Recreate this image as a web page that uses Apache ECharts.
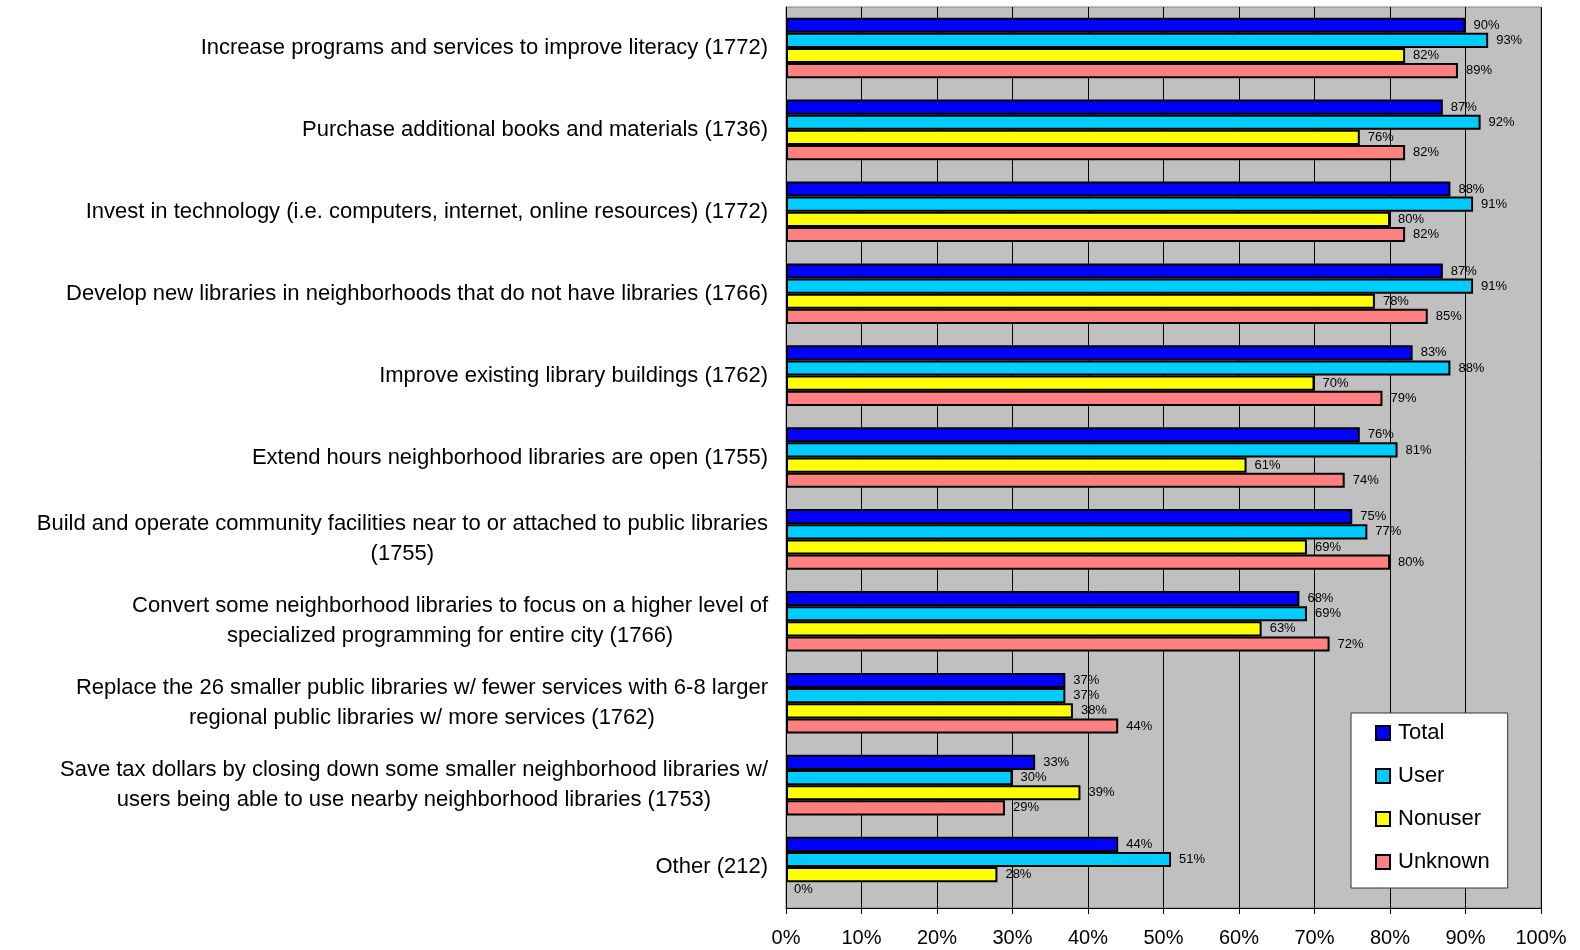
<!DOCTYPE html>
<html>
<head>
<meta charset="utf-8">
<title>Library priorities</title>
<script src="https://cdn.jsdelivr.net/npm/echarts@6/dist/echarts.min.js"></script>
<style>
	html, body { margin: 0; padding: 0; background: #fff; }
	#main { width: 1580px; height: 950px; }
</style>
</head>
<body>
<div id="main"></div>
<script>
// categories, top to bottom
var categories = [
	'Increase programs and services to improve literacy (1772)',
	'Purchase additional books and materials (1736)',
	'Invest in technology (i.e. computers, internet, online resources) (1772)',
	'Develop new libraries in neighborhoods that do not have libraries (1766)',
	'Improve existing library buildings (1762)',
	'Extend hours neighborhood libraries are open (1755)',
	'Build and operate community facilities near to or attached to public libraries\n(1755)',
	'Convert some neighborhood libraries to focus on a higher level of\nspecialized programming for entire city (1766)',
	'Replace the 26 smaller public libraries w/ fewer services with 6-8 larger\nregional public libraries w/ more services (1762)',
	'Save tax dollars by closing down some smaller neighborhood libraries w/\nusers being able to use nearby neighborhood libraries (1753)',
	'Other (212)'
];
var seriesNames = ['Total', 'User', 'Nonuser', 'Unknown'];
var total   = [90, 87, 88, 87, 83, 76, 75, 68, 37, 33, 44];
var user    = [93, 92, 91, 91, 88, 81, 77, 69, 37, 30, 51];
var nonuser = [82, 76, 80, 78, 70, 61, 69, 63, 38, 39, 28];
var unknown = [89, 82, 82, 85, 79, 74, 80, 72, 44, 29, 0];
var xTicks = [0, 10, 20, 30, 40, 50, 60, 70, 80, 90, 100];

var colors = ['#0000FF', '#00CCFF', '#FFFF00', '#FF8080'];
var values = [total, user, nonuser, unknown];
var font = 'Arial, "Liberation Sans", sans-serif';

var chart = echarts.init(document.getElementById('main'));

var series = seriesNames.map(function(name, i) {
	return {
		name: name,
		type: 'bar',
		// zero-length bars get no outline, like the original
		data: values[i].map(function(v) {
			return v === 0 ? { value: v, itemStyle: { borderWidth: 0 } } : v;
		}),
		barGap: '0%',
		barCategoryGap: '26%',
		itemStyle: { color: colors[i], borderColor: '#000', borderWidth: 2 },
		label: {
			show: true,
			position: 'right',
			distance: 8,
			formatter: '{c}%',
			color: '#000',
			fontFamily: font,
			fontSize: 13
		}
	};
});

chart.setOption({
	animation: false,
	grid: {
		left: 786,
		right: 39,
		top: 7,
		bottom: 42,
		show: true,
		backgroundColor: '#C0C0C0',
		borderColor: '#808080',
		borderWidth: 1
	},
	legend: {
		orient: 'vertical',
		left: 1351,
		top: 713,
		data: seriesNames,
		icon: 'rect',
		itemWidth: 14,
		itemHeight: 14,
		itemGap: 21,
		padding: [9, 18, 15, 24],
		backgroundColor: '#fff',
		borderColor: '#333',
		borderWidth: 1,
		textStyle: { fontFamily: font, fontSize: 22, color: '#000', padding: [0, 0, 0, 3] }
	},
	xAxis: {
		type: 'value',
		min: 0,
		max: 100,
		interval: 10,
		axisLine: { show: true, lineStyle: { color: '#000', width: 1 } },
		axisTick: { show: true, length: 6, lineStyle: { color: '#000' } },
		axisLabel: {
			margin: 20,
			fontFamily: font,
			fontSize: 20,
			color: '#000',
			formatter: function(v) { return xTicks.indexOf(v) >= 0 ? v + '%' : ''; }
		},
		splitLine: { show: true, lineStyle: { color: '#000', width: 1 } }
	},
	yAxis: {
		type: 'category',
		inverse: true,
		data: categories,
		axisLine: { show: true, lineStyle: { color: '#000', width: 1 } },
		axisTick: { show: false },
		axisLabel: {
			margin: 18,
			align: 'right',
			interval: 0,
			formatter: function(v) {
				// each line centred inside a right-aligned block
				return v.split('\n').map(function(l) { return '{c|' + l + '}'; }).join('\n');
			},
			rich: {
				c: { align: 'center', fontFamily: font, fontSize: 22, lineHeight: 30, color: '#000' }
			}
		}
	},
	series: series
});
</script>
</body>
</html>
